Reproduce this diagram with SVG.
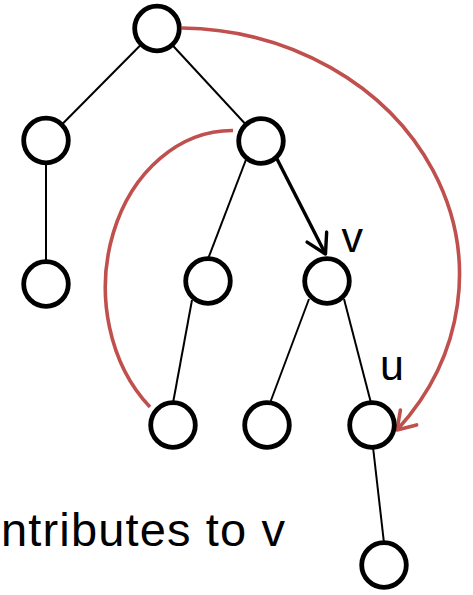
<svg xmlns="http://www.w3.org/2000/svg" width="473" height="595" viewBox="0 0 473 595">
  <style>
    .node { fill: #ffffff; stroke: #000000; stroke-width: 4.8; }
    .edge { stroke: #000000; stroke-width: 2; fill: none; }
    .tree-arrow { stroke: #000000; stroke-width: 3.4; fill: none; }
    .back { stroke: #c0504d; stroke-width: 3.6; fill: none; }
    .label { font-family: "Liberation Sans", Arial, sans-serif; fill: #000000; }
  </style>
  <defs>
    <marker id="head-black" markerUnits="userSpaceOnUse" viewBox="-22 -14 26 28" markerWidth="26" markerHeight="28" refX="0" refY="0" orient="auto">
      <path d="M-19,-11 L0,0 L-19,11" fill="none" stroke="#000000" stroke-width="3.4" stroke-linecap="round" stroke-linejoin="round"/>
    </marker>
    <marker id="head-red" markerUnits="userSpaceOnUse" viewBox="-22 -14 26 28" markerWidth="26" markerHeight="28" refX="0" refY="0" orient="auto">
      <path d="M-17,-11 L0,0 L-17,11" fill="none" stroke="#c0504d" stroke-width="3.6" stroke-linecap="round" stroke-linejoin="round"/>
    </marker>
  </defs>

  <g id="connectors">
    <line class="edge" x1="157" y1="28.5" x2="46" y2="140.5"/>
    <line class="edge" x1="157" y1="28.5" x2="261" y2="141"/>
    <line class="edge" x1="46" y1="140.5" x2="46" y2="284"/>
    <line class="edge" x1="247" y1="157" x2="208" y2="259"/>
    <line class="edge" x1="192" y1="300" x2="173" y2="403"/>
    <line class="edge" x1="309" y1="299" x2="270" y2="403"/>
    <line class="edge" x1="344" y1="299" x2="371" y2="403"/>
    <line class="edge" x1="373" y1="447" x2="384" y2="543"/>
    <!-- tree edge into v -->
    <line class="tree-arrow" x1="276" y1="157" x2="325.5" y2="254" marker-end="url(#head-black)"/>
    <!-- back edges -->
    <path class="back" d="M182,28 A282,247 0 0 1 397,430" marker-end="url(#head-red)"/>
    <path class="back" d="M233,130.5 A127,157 0 0 0 150,407"/>
  </g>

  <g id="n-root"><circle class="node" cx="157" cy="28.5" r="22.3"/></g>
  <g id="n-a"><circle class="node" cx="46" cy="140.5" r="22.3"/></g>
  <g id="n-b"><circle class="node" cx="261" cy="141" r="22.3"/></g>
  <g id="n-c"><circle class="node" cx="46" cy="284" r="22.3"/></g>
  <g id="n-d"><circle class="node" cx="208" cy="281" r="22.3"/></g>
  <g id="n-v"><circle class="node" cx="327" cy="281" r="22.3"/></g>
  <g id="n-e"><circle class="node" cx="173" cy="425" r="22.3"/></g>
  <g id="n-f"><circle class="node" cx="267" cy="425" r="22.3"/></g>
  <g id="n-u"><circle class="node" cx="372" cy="425" r="22.3"/></g>
  <g id="n-g"><circle class="node" cx="384" cy="565" r="22.3"/></g>

  <g id="labels">
    <text class="label" x="1" y="546" font-size="47" textLength="284">ntributes to v</text>
    <text class="label" x="341.5" y="251.5" font-size="43">v</text>
    <text class="label" x="380" y="379.5" font-size="43">u</text>
  </g>
</svg>
